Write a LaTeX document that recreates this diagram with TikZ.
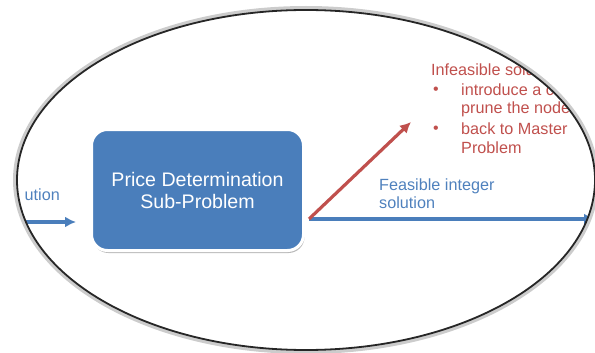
\documentclass[tikz,border=0pt]{standalone}
\usepackage{fontspec}
\setmainfont{Liberation Sans}
\usetikzlibrary{shadows,arrows.meta}

\definecolor{boxblue}{HTML}{4A7EBB}
\definecolor{txtblue}{HTML}{4F81BD}
\definecolor{cutred}{HTML}{C0504D}

\tikzset{
  pricebox/.style={draw=white, line width=3pt, fill=boxblue, rounded corners=16pt,
    minimum width=212pt, minimum height=121pt, text=white, align=center,
    font=\fontsize{19.6}{22}\selectfont,
    drop shadow={shadow xshift=1pt, shadow yshift=-2.5pt, fill=black!45, opacity=0.6}},
  bluetxt/.style={text=txtblue, font=\fontsize{16.2}{18}\selectfont, inner sep=0pt},
  redtxt/.style={text=cutred, font=\fontsize{16.2}{19}\selectfont, inner sep=0pt},
  bluearrow/.style={draw=boxblue, line width=3.2pt, -{Latex[length=11pt,width=11pt]}},
  redarrow/.style={draw=cutred, line width=3.2pt, -{Latex[length=11pt,width=11pt]}}
}

\begin{document}
\begin{tikzpicture}[x=1pt,y=-1pt]
  \useasboundingbox (0,0) rectangle (595,353);

  \begin{scope}
    \clip (306,180) ellipse [x radius=289pt, y radius=170pt];

    \node[pricebox] (price) at (197.5,190) {Price Determination\\Sub-Problem};

    % incoming solution
    \node[bluetxt, anchor=east] (inlabel) at (60,195) {ution};
    \coordinate (insol) at (0,222);
    \coordinate (inend) at (76,222);
    \draw[bluearrow] (insol) -- (inend);

    % outgoing arrows
    \coordinate (fork) at (309,219);
    \coordinate (outsol) at (595,219);
    \coordinate (cut) at (411,122);
    \draw[bluearrow] (fork) -- (outsol);
    \draw[redarrow] (fork) -- (cut);

    \node[bluetxt, anchor=west] (feas1) at (379,186) {Feasible integer};
    \node[bluetxt, anchor=west] (feas2) at (379,203) {solution};

    \node[redtxt, anchor=west] (inf0) at (431,70) {Infeasible solu};
    \node[redtxt] (b1) at (436,91) {\fontsize{16}{16}\selectfont•};
    \node[redtxt, anchor=west] (inf1) at (461,90) {introduce a c};
    \node[redtxt, anchor=west] (inf2) at (461,109) {prune the node};
    \node[redtxt] (b2) at (436,130) {\fontsize{16}{16}\selectfont•};
    \node[redtxt, anchor=west] (inf3) at (461,129) {back to Master};
    \node[redtxt, anchor=west] (inf4) at (461,148) {Problem};
  \end{scope}

  % lens outline
  \draw[black!20, line width=4pt] (306,180) ellipse [x radius=291pt, y radius=172pt];
  \draw[black!85, line width=1.8pt] (306,180) ellipse [x radius=289pt, y radius=170pt];
\end{tikzpicture}
\end{document}
